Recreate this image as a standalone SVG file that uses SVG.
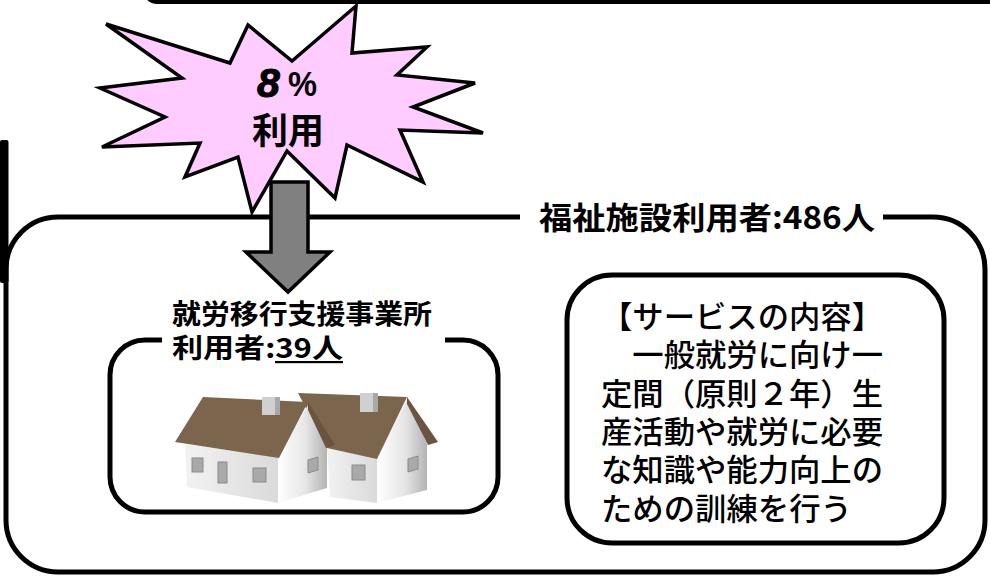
<svg xmlns="http://www.w3.org/2000/svg" width="990" height="577" viewBox="0 0 990 577">
  <style>
    .frame { fill: none; stroke: #000; stroke-width: 5; }
    .jp { font-family: "Noto Sans CJK JP", "Noto Sans", sans-serif; fill: #000; }
    .label { font-weight: bold; }
    .body { font-size: 31px; font-weight: 500; }
    .latin { font-family: "Liberation Sans", Arial, sans-serif; font-weight: bold; fill: #000; }
    .win { fill: #a9a9a9; stroke: #8a8a8a; stroke-width: 1; }
    .roof { fill: #7b654d; }
    .verge { fill: #6a5440; }
  </style>
  <defs>
    <linearGradient id="gableGrad" x1="0" y1="0" x2="1" y2="0">
      <stop offset="0" stop-color="#ffffff"/>
      <stop offset="0.55" stop-color="#e6e6e6"/>
      <stop offset="1" stop-color="#b4b4b4"/>
    </linearGradient>
    <linearGradient id="frontGrad" x1="0" y1="0" x2="1" y2="0">
      <stop offset="0" stop-color="#f2f2f2"/>
      <stop offset="1" stop-color="#dadada"/>
    </linearGradient>
    <linearGradient id="roofGrad" x1="0" y1="0" x2="1" y2="1">
      <stop offset="0" stop-color="#8a735a"/>
      <stop offset="1" stop-color="#6e5843"/>
    </linearGradient>
  </defs>

  <!-- upper panel, only its lower edge is in view -->
  <g id="upper-panel">
    <rect x="145" y="-100" width="900" height="102" rx="12" fill="#fff" stroke="#000" stroke-width="4"/>
  </g>

  <!-- edge of a panel at the left border -->
  <g id="left-panel-edge">
    <rect x="0" y="140" width="8.5" height="143" rx="2" fill="#000"/>
  </g>

  <!-- welfare facility users: outer frame with caption in its top edge -->
  <g id="welfare-users">
    <path class="frame" d="M520,217 H58 A52,52 0 0 0 6,269 V520 A52,52 0 0 0 58,572 H933 A52,52 0 0 0 985,520 V269 A52,52 0 0 0 933,217 H883"/>
    <text class="jp label" x="539" y="229" font-size="31" textLength="336" lengthAdjust="spacingAndGlyphs">福祉施設利用者:486人</text>
  </g>

  <!-- burst badge -->
  <g id="usage-burst">
    <polygon points="106,24 230,63 248,25 292,61 356,6 352,53 427,47 397,75 475,83 413,107 483,133 400,130 423,182 347,145 335,198 287,151 252,212 238,157 185,177 200,143 102,147 165,117 100,88 182,78" fill="#ffccff" stroke="#000" stroke-width="3.5" stroke-linejoin="miter"/>
    <text class="latin" x="257" y="97" font-size="41" font-style="italic" stroke="#000" stroke-width="1">8</text>
    <text class="latin" x="288" y="96" font-size="35" textLength="29" lengthAdjust="spacingAndGlyphs">%</text>
    <text class="jp label" x="288" y="144" text-anchor="middle" font-size="36">利用</text>
  </g>

  <!-- connector -->
  <g id="connectors">
    <polygon points="271,182 308,182 308,252 330,252 288,292 246,252 271,252" fill="#808080" stroke="#000" stroke-width="3.5" stroke-linejoin="miter"/>
  </g>

  <!-- transition support office -->
  <g id="transition-office">
    <path class="frame" d="M162,340 H145 A35,35 0 0 0 110,375 V477 A35,35 0 0 0 145,512 H463 A35,35 0 0 0 498,477 V375 A35,35 0 0 0 463,340 H445"/>
    <text class="jp label" x="172" y="324" font-size="27" textLength="260" lengthAdjust="spacingAndGlyphs">就労移行支援事業所</text>
    <text class="jp label" x="172" y="358" font-size="27" textLength="171" lengthAdjust="spacingAndGlyphs">利用者:39人</text>
    <rect x="275" y="361" width="68" height="2.2" fill="#000"/>

    <!-- two houses -->
    <g id="houses">
      <!-- rear house -->
      <polygon points="327,448 377,458 377,503 330,497" fill="url(#frontGrad)"/>
      <polygon points="407,400 377,458 377,503 427,490 427,444" fill="url(#gableGrad)"/>
      <rect class="win" x="352" y="465" width="13" height="15"/>
      <polygon class="win" points="408,459 418,456 418,469 408,472"/>
      <polygon class="roof" fill="url(#roofGrad)" points="298,393 407,397 377,459 327,448"/>
      <polygon class="verge" points="407,397 438,442 428,445 407,404"/>
      <rect x="360" y="393" width="13" height="19" fill="#d0d0d0"/>
      <rect x="373" y="393" width="5" height="19" fill="#a8a8a8"/>

      <!-- front house -->
      <polygon points="185,444 278,457 278,503 187,487" fill="url(#frontGrad)"/>
      <polygon points="308,405 278,457 278,503 327,488 327,446" fill="url(#gableGrad)"/>
      <rect class="win" x="192" y="458" width="11" height="14"/>
      <rect class="win" x="218" y="462" width="9" height="21"/>
      <rect class="win" x="253" y="468" width="13" height="14"/>
      <polygon class="win" points="308,460 318,457 318,470 308,473"/>
      <polygon class="roof" fill="url(#roofGrad)" points="203,397 308,402 279,458 175,442"/>
      <polygon class="verge" points="308,402 335,445 326,448 308,410"/>
      <rect x="262" y="397" width="13" height="18" fill="#d0d0d0"/>
      <rect x="275" y="397" width="5" height="18" fill="#a8a8a8"/>
    </g>
  </g>

  <!-- service description -->
  <g id="service-content">
    <rect class="frame" x="567" y="275" width="377" height="268" rx="45" fill="#fff"/>
    <text class="jp body" x="601" y="328" textLength="282" lengthAdjust="spacingAndGlyphs">【サービスの内容】</text>
    <text class="jp body" x="601" y="366" textLength="282" lengthAdjust="spacingAndGlyphs">　一般就労に向け一</text>
    <text class="jp body" x="601" y="405" textLength="282" lengthAdjust="spacingAndGlyphs">定間（原則２年）生</text>
    <text class="jp body" x="601" y="443" textLength="282" lengthAdjust="spacingAndGlyphs">産活動や就労に必要</text>
    <text class="jp body" x="601" y="481" textLength="282" lengthAdjust="spacingAndGlyphs">な知識や能力向上の</text>
    <text class="jp body" x="601" y="520" textLength="251" lengthAdjust="spacingAndGlyphs">ための訓練を行う</text>
  </g>
</svg>
